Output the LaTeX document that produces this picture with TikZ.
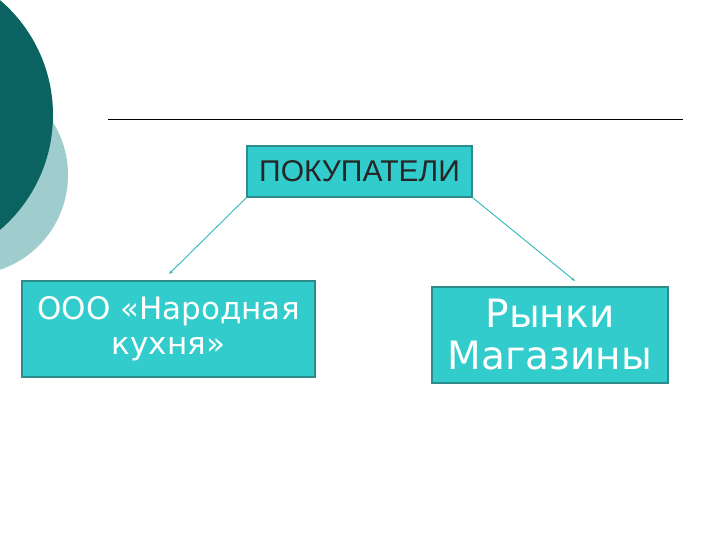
\documentclass[tikz,border=0pt]{standalone}
\usepackage{fontspec}
\setmainfont{Liberation Sans}
\newfontfamily\boxfont{DejaVu Sans}
\usetikzlibrary{arrows.meta}
\definecolor{tealdark}{HTML}{0A6361}
\definecolor{teallight}{HTML}{9FCDCD}
\definecolor{boxfill}{HTML}{33CCCC}
\definecolor{boxline}{HTML}{2E8B8B}
\definecolor{linkcol}{HTML}{2FB8B8}
\tikzset{
  tealbox/.style={draw=boxline, line width=1.6pt, fill=boxfill, inner sep=0pt, align=center},
  link/.style={draw=linkcol, line width=0.9pt, -{Stealth[length=4pt,width=3pt]}}
}

\begin{document}
\begin{tikzpicture}[x=1pt, y=-1pt]
			%%%%% START %%%%%
			\clip (0, 0) rectangle (720, 540);
			\fill[white] (0, 0) rectangle (720, 540);
			
			\fill[teallight] (-32, 175) circle [radius=100pt];
			\fill[tealdark] (-98, 115) circle [radius=151pt];
			
			\draw[line width=1pt] (108, 120) -- (683, 120);
			
			\node[tealbox, minimum width=225pt, minimum height=51pt, text=black!85, font=\fontsize{30}{34}\selectfont] (buyers) at (359.5, 171.5) {ПОКУПАТЕЛИ};
			\node[tealbox, minimum width=293pt, minimum height=96pt, text=white, font=\boxfont\fontsize{31}{35}\selectfont] (kitchen) at (168.5, 329) {ООО «Народная\\кухня»};
			\node[tealbox, minimum width=236pt, minimum height=96pt, text=white, font=\boxfont\fontsize{39}{42}\selectfont] (shops) at (550, 335) {Рынки\\Магазины};
			
			\coordinate (toKitchen) at (169, 274);
			\coordinate (toShops) at (575, 281);
			\draw[link] (buyers.south west) -- (toKitchen);
			\draw[link] (buyers.south east) -- (toShops);
			%%%%% END %%%%%
		\end{tikzpicture}
\end{document}
